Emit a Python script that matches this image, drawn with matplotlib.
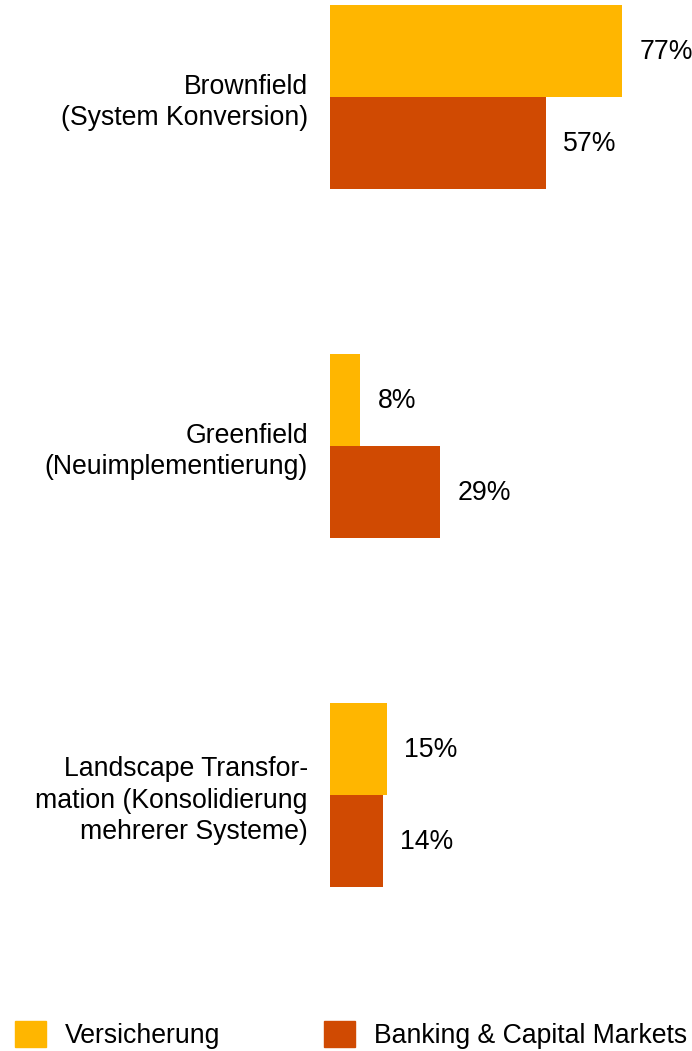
import matplotlib

matplotlib.use("Agg")
import matplotlib.pyplot as plt
import numpy as np
from matplotlib.patches import Patch

plt.rcParams["font.family"] = ["Liberation Sans", "DejaVu Sans"]

categories = [
    "Brownfield\n(System Konversion)",
    "Greenfield\n(Neuimplementierung)",
    "Landscape Transfor-\nmation (Konsolidierung\nmehrerer Systeme)",
]
series_names = ["Versicherung", "Banking & Capital Markets"]
versicherung = [77, 8, 15]
banking = [57, 29, 14]

_YELLOW = "#FFB600"
_ORANGE = "#D04A02"
_TEXT = "#000000"
_FS = 19.2

W, H, DPI = 692, 1051, 100
fig = plt.figure(figsize=(W / DPI, H / DPI), dpi=DPI)
fig.patch.set_facecolor("white")

# axes placed in pixel terms: bars start at x=330, top of first bar y=5, bottom of last y=887
ax = fig.add_axes([330 / W, 1 - 887 / H, (W - 330) / W, 882 / H])
ax.set_facecolor("none")

h = 92 / 349
y = np.arange(len(categories))
ax.barh(y - h / 2, versicherung, height=h, color=_YELLOW, label=series_names[0])
ax.barh(y + h / 2, banking, height=h, color=_ORANGE, label=series_names[1])

for yy, v in zip(y - h / 2, versicherung):
    ax.annotate(f"{v}%", (v, yy), xytext=(12.5, -1), textcoords="offset points",
                ha="left", va="center", fontsize=_FS, color=_TEXT)
for yy, v in zip(y + h / 2, banking):
    ax.annotate(f"{v}%", (v, yy), xytext=(12.5, -1), textcoords="offset points",
                ha="left", va="center", fontsize=_FS, color=_TEXT)

ax.set_xlim(0, (W - 330) / 3.79)
ax.set_ylim(2 + h, -h)
ax.set_yticks(y)
ax.set_yticklabels(categories, fontsize=_FS, color=_TEXT, linespacing=1.27,
                   multialignment="right")
ax.tick_params(axis="y", length=0, pad=16)
ax.set_xticks([])
for s in ax.spines.values():
    s.set_visible(False)

handles = [Patch(color=_YELLOW), Patch(color=_ORANGE)]
fig.legend(handles, series_names, loc="lower left",
           bbox_to_anchor=(15 / W, 2 / H), ncol=2, frameon=False,
           fontsize=_FS, handlelength=1.16, handleheight=1.1,
           handletextpad=0.72, columnspacing=3.88, borderpad=0,
           borderaxespad=0)

fig.savefig("out.png", dpi=DPI, facecolor=fig.get_facecolor())
